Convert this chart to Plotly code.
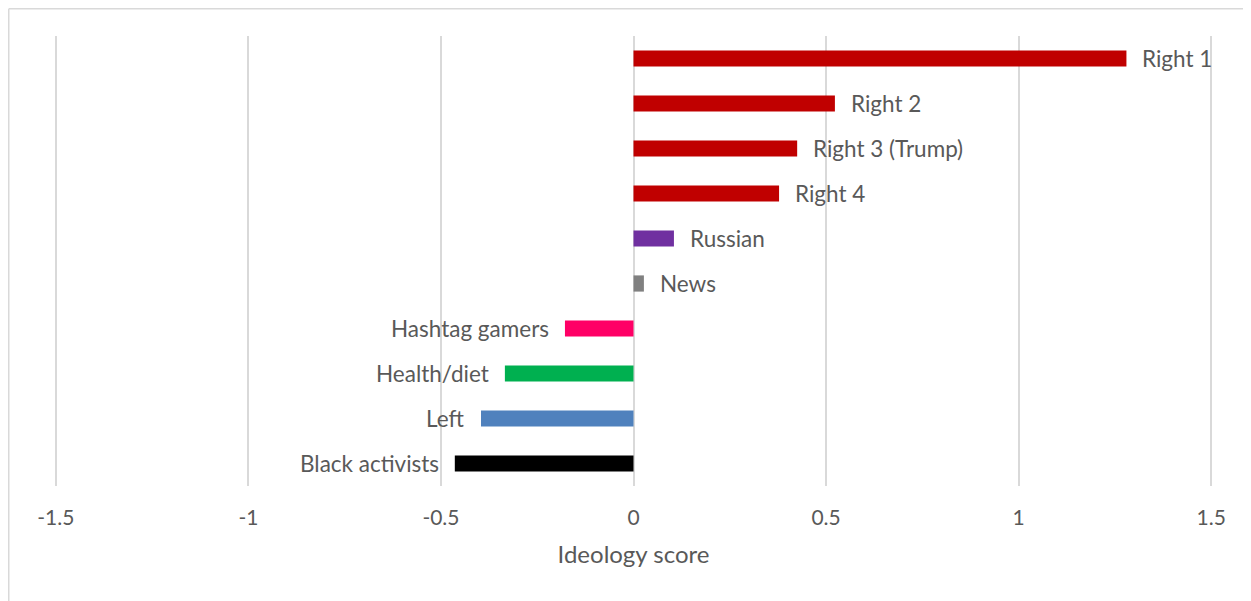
import plotly.graph_objects as go

categories = ["Right 1", "Right 2", "Right 3 (Trump)", "Right 4", "Russian",
              "News", "Hashtag gamers", "Health/diet", "Left", "Black activists"]
scores = [1.28, 0.523, 0.425, 0.378, 0.105, 0.027, -0.178, -0.334, -0.396, -0.464]
bar_colors = ["#C00000", "#C00000", "#C00000", "#C00000", "#7030A0",
              "#808080", "#FF0066", "#00B050", "#4F81BD", "#000000"]
x_ticks = [-1.5, -1, -0.5, 0, 0.5, 1, 1.5]
x_tick_labels = ["-1.5", "-1", "-0.5", "0", "0.5", "1", "1.5"]

FONT = "Lato"
TXT = "#595959"

fig = go.Figure(go.Bar(
    x=scores, y=categories, orientation="h",
    marker=dict(color=bar_colors, line=dict(width=0)),
    width=0.36, hoverinfo="x+y",
))

annotations = []
for c, v in zip(categories, scores):
    annotations.append(dict(
        x=v, y=c, xref="x", yref="y", text=c, showarrow=False,
        xanchor="left" if v >= 0 else "right", yanchor="middle",
        xshift=14 if v >= 0 else -14,
        font=dict(family=FONT, size=22.5, color=TXT),
    ))

L, R, T, B = 44, 36, 28, 115
W, H = 1243, 593
PW, PH = W - L - R, H - T - B
fig.update_layout(
    width=W, height=H,
    margin=dict(l=L, r=R, t=T, b=B),
    paper_bgcolor="white", plot_bgcolor="white",
    showlegend=False,
    annotations=annotations,
    font=dict(family=FONT, color=TXT),
    xaxis=dict(
        range=[-1.51, 1.51], tickvals=x_ticks, ticktext=x_tick_labels,
        showgrid=True, gridcolor="#D9D9D9", gridwidth=1.5,
        zeroline=True, zerolinecolor="#D9D9D9", zerolinewidth=1.5,
        showline=False, ticks="",
        tickfont=dict(family=FONT, size=21, color=TXT),
        ticklabelstandoff=17,
        title=dict(text="Ideology score", font=dict(family=FONT, size=24, color=TXT), standoff=18),
    ),
    yaxis=dict(
        autorange="reversed", showticklabels=False, showgrid=False,
        zeroline=False, showline=False, ticks="",
    ),
    shapes=[
        dict(type="line", xref="paper", yref="paper",
             x0=(0.75 - L) / PW, x1=1.2, y0=1 + (T - 0.75) / PH, y1=1 + (T - 0.75) / PH,
             line=dict(color="#D9D9D9", width=1.5)),
        dict(type="line", xref="paper", yref="paper",
             x0=(0.75 - L) / PW, x1=(0.75 - L) / PW, y0=1 + (T - 0.75) / PH, y1=-0.4,
             line=dict(color="#D9D9D9", width=1.5)),
    ],
)

fig.write_html("out.html")
